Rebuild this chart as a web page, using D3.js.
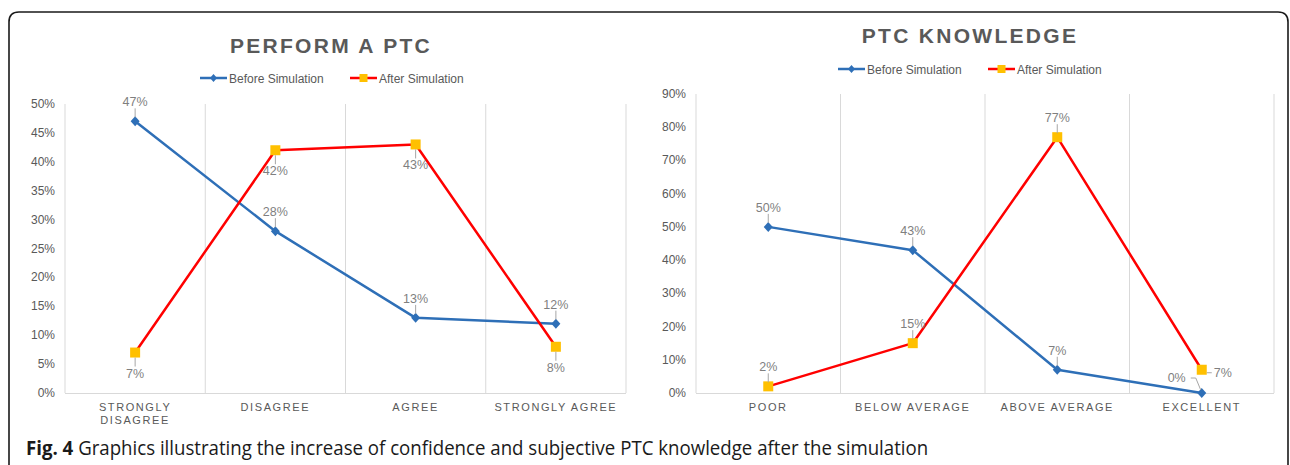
<!DOCTYPE html>
<html>
<head>
<meta charset="utf-8">
<script src="https://cdn.jsdelivr.net/npm/d3@7"></script>
<style>
  body { margin: 0; background: #fff; }
  svg { display: block; }
</style>
</head>
<body>
<svg id="fig" width="1290" height="465"></svg>
<script>
(function () {
  "use strict";

  // data
  const performCats = ["STRONGLY DISAGREE", "DISAGREE", "AGREE", "STRONGLY AGREE"]
  const performBefore = [0.47, 0.28, 0.13, 0.12]
  const performAfter = [0.07, 0.42, 0.43, 0.08]
  const performTicks = [0, 0.05, 0.10, 0.15, 0.20, 0.25, 0.30, 0.35, 0.40, 0.45, 0.50]

  const knowCats = ["POOR", "BELOW AVERAGE", "ABOVE AVERAGE", "EXCELLENT"]
  const knowBefore = [0.50, 0.43, 0.07, 0.00]
  const knowAfter = [0.02, 0.15, 0.77, 0.07]
  const knowTicks = [0, 0.1, 0.2, 0.3, 0.4, 0.5, 0.6, 0.7, 0.8, 0.9]

  const seriesNames = ["Before Simulation", "After Simulation"]

  const blue = "#2e6fb7"
  const red = "#ff0000"
  const gold = "#ffc000"
  const grid = "#d9d9d9"
  const textGray = "#595959"
  const labelGray = "#7f7f7f"

  let svg = d3.select("#fig")

  // outer frame
  svg.append("path")
    .attr("d", "M9,480 L9,22 Q9,12 19,12 L1278,12 Q1288,12 1288,22 L1288,480")
    .attr("fill", "none")
    .attr("stroke", "#1a1a1a")
    .attr("stroke-width", 1.6)

  function diamond(w, h) {
    let p = d3.path()
    p.moveTo(0, -h / 2); p.lineTo(w / 2, 0); p.lineTo(0, h / 2); p.lineTo(-w / 2, 0); p.closePath()
    return p.toString()
  }

  function drawChart(opt) {
    let g = svg.append("g")
    let x = d3.scaleBand().domain(opt.cats).range([opt.x0, opt.x1])
    let y = d3.scaleLinear().domain([0, opt.ticks[opt.ticks.length - 1]]).range([393, opt.yTop])
    let cx = c => x(c) + x.bandwidth() / 2

    // title
    g.append("text")
      .attr("x", opt.titleX).attr("y", opt.titleY)
      .attr("text-anchor", "middle")
      .attr("font-family", "Liberation Sans, Arial, sans-serif")
      .attr("font-weight", "bold")
      .attr("font-size", 21)
      .attr("letter-spacing", 2.3)
      .attr("fill", textGray)
      .text(opt.title)

    // legend
    let lg = g.append("g").attr("transform", "translate(" + opt.legendX + "," + opt.legendY + ")")
    seriesNames.forEach(function (name, i) {
      let ox = i * 150
      lg.append("line")
        .attr("x1", ox).attr("x2", ox + 27).attr("y1", 0).attr("y2", 0)
        .attr("stroke", i === 0 ? blue : red).attr("stroke-width", 2.5)
      if (i === 0) {
        lg.append("path").attr("d", diamond(7, 8))
          .attr("transform", "translate(" + (ox + 13.5) + ",0)")
          .attr("fill", blue)
      } else {
        lg.append("rect").attr("x", ox + 9.5).attr("y", -4).attr("width", 8).attr("height", 8)
          .attr("fill", gold)
      }
      lg.append("text")
        .attr("x", ox + 29).attr("y", 4.5)
        .attr("font-family", "Liberation Sans, Arial, sans-serif")
        .attr("font-size", 12)
        .attr("fill", textGray)
        .text(name)
    })

    // vertical gridlines
    let edges = opt.cats.map(c => x(c)).concat([opt.x1])
    g.selectAll(".vg").data(edges).enter().append("line")
      .attr("x1", d => d).attr("x2", d => d)
      .attr("y1", opt.yGridTop).attr("y2", 393)
      .attr("stroke", grid).attr("stroke-width", 1)
    g.append("line")
      .attr("x1", opt.x0).attr("x2", opt.x1).attr("y1", 393.5).attr("y2", 393.5)
      .attr("stroke", grid).attr("stroke-width", 1)

    // y tick labels
    g.selectAll(".yt").data(opt.ticks).enter().append("text")
      .attr("x", opt.x0 - 10).attr("y", d => y(d) + 4)
      .attr("text-anchor", "end")
      .attr("font-family", "Liberation Sans, Arial, sans-serif")
      .attr("font-size", 12)
      .attr("fill", textGray)
      .text(d => Math.round(d * 100) + "%")

    // category labels
    opt.cats.forEach(function (c) {
      let lines = opt.wrap[c] || [c]
      let t = g.append("text")
        .attr("x", cx(c)).attr("y", 411)
        .attr("text-anchor", "middle")
        .attr("font-family", "Liberation Sans, Arial, sans-serif")
        .attr("font-size", 11)
        .attr("letter-spacing", 1.6)
        .attr("fill", textGray)
      lines.forEach(function (ln, i) {
        t.append("tspan").attr("x", cx(c)).attr("dy", i === 0 ? 0 : 13).text(ln)
      })
    })

    // lines
    let series = [
      { vals: opt.before, color: blue, place: opt.beforePlace },
      { vals: opt.after, color: red, place: opt.afterPlace }
    ]
    series.forEach(function (s) {
      let line = d3.line().x((d, i) => cx(opt.cats[i])).y(d => y(d))
      g.append("path").datum(s.vals)
        .attr("d", line)
        .attr("fill", "none")
        .attr("stroke", s.color)
        .attr("stroke-width", 2.5)
        .attr("stroke-linejoin", "round")
    })
    series.forEach(function (s, si) {
      s.vals.forEach(function (v, i) {
        let px = cx(opt.cats[i]), py = y(v)
        if (si === 0) {
          g.append("path").attr("d", diamond(9, 10))
            .attr("transform", "translate(" + px + "," + py + ")")
            .attr("fill", blue)
        } else {
          g.append("rect").attr("x", px - 5).attr("y", py - 5).attr("width", 10).attr("height", 10)
            .attr("fill", gold)
        }
      })
    })

    // data labels with leader lines
    series.forEach(function (s) {
      s.vals.forEach(function (v, i) {
        let px = cx(opt.cats[i]), py = y(v)
        let p = s.place[i]
        let tx = px, ty, anchor = "middle", pts
        if (p === "above") {
          ty = py - 15; pts = [[px, py - 13], [px, py - 4]]
        } else if (p === "below") {
          ty = py + 25; pts = [[px, py + 5], [px, py + 14]]
        } else if (p === "left") {
          tx = px - 16; ty = py - 11; anchor = "end"
          pts = [[px - 11, py - 15], [px - 6, py - 15], [px - 1, py - 3]]
        } else {
          tx = px + 12; ty = py + 7; anchor = "start"
          pts = [[px + 5, py + 3], [px + 10, py + 3]]
        }
        g.append("path")
          .attr("d", d3.line()(pts))
          .attr("fill", "none")
          .attr("stroke", "#a6a6a6").attr("stroke-width", 1)
        g.append("text")
          .attr("x", tx).attr("y", ty)
          .attr("text-anchor", anchor)
          .attr("font-family", "Liberation Sans, Arial, sans-serif")
          .attr("font-size", 12.5)
          .attr("fill", labelGray)
          .text(Math.round(v * 100) + "%")
      })
    })
  }

  drawChart({
    title: "PERFORM A PTC", titleX: 331, titleY: 53,
    legendX: 200, legendY: 78,
    cats: performCats, before: performBefore, after: performAfter, ticks: performTicks,
    x0: 65, x1: 626, yTop: 104, yGridTop: 104,
    wrap: { "STRONGLY DISAGREE": ["STRONGLY", "DISAGREE"] },
    beforePlace: ["above", "above", "above", "above"],
    afterPlace: ["below", "below", "below", "below"]
  })

  drawChart({
    title: "PTC KNOWLEDGE", titleX: 970, titleY: 43,
    legendX: 838, legendY: 69,
    cats: knowCats, before: knowBefore, after: knowAfter, ticks: knowTicks,
    x0: 696, x1: 1274, yTop: 94, yGridTop: 94,
    wrap: {},
    beforePlace: ["above", "above", "above", "left"],
    afterPlace: ["above", "above", "above", "right"]
  })

  // caption
  let cap = svg.append("text")
    .attr("transform", "translate(26,455) scale(0.933,1)")
    .attr("font-family", "Open Sans, Noto Sans, sans-serif")
    .attr("font-size", 20)
    .attr("fill", "#1a1a1a")
  cap.append("tspan").attr("font-weight", "bold").text("Fig. 4")
  cap.append("tspan").text(" Graphics illustrating the increase of confidence and subjective PTC knowledge after the simulation")
})();
</script>
</body>
</html>
